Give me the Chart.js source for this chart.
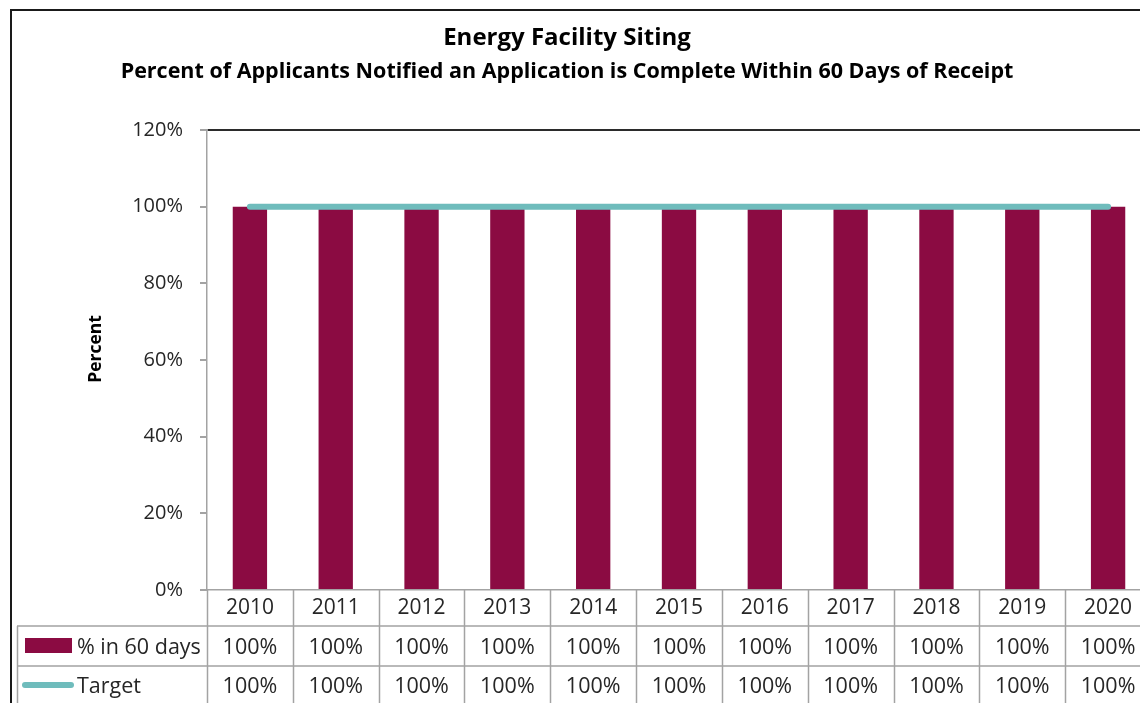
<!DOCTYPE html>
<html>
<head>
<meta charset="utf-8">
<title>Energy Facility Siting</title>
<script src="https://cdn.jsdelivr.net/npm/chart.js@4/dist/chart.umd.min.js"></script>
<style>
  html, body { margin: 0; padding: 0; background: #fff; overflow: hidden; }
  #wrap { width: 1160px; height: 703px; }
</style>
</head>
<body>
<div id="wrap"><canvas id="chart" width="1160" height="703"></canvas></div>
<script>
// Chart data
const years = ['2010', '2011', '2012', '2013', '2014', '2015', '2016', '2017', '2018', '2019', '2020'];
const pctIn60Days = [100, 100, 100, 100, 100, 100, 100, 100, 100, 100, 100];
const target = [100, 100, 100, 100, 100, 100, 100, 100, 100, 100, 100];
const yTickMax = 120;
const yTickStep = 20;

const FONT = "'Open Sans', sans-serif";
const BAR_COLOR = '#8b0b42';
const LINE_COLOR = '#6fbcbc';
const TABLE_LINE = '#a3a3a3';
const TEXT = '#262626';

// Draws the titles, the outer frame and the Excel style data table
const tablePlugin = {
    id: 'dataTable',
    beforeDraw(chart) {
        const ctx = chart.ctx;
        ctx.save();
        ctx.fillStyle = '#fff';
        ctx.fillRect(0, 0, chart.width, chart.height);
        ctx.restore();
    },
    afterDraw(chart) {
        const ctx = chart.ctx;
        const area = chart.chartArea;
        const x = chart.scales.x;
        const step = (area.right - area.left) / years.length;
        const row1 = 626, row2 = 666, bottom = chart.height;

        ctx.save();

        // outer frame of the chart object
        ctx.strokeStyle = '#1a1a1a';
        ctx.lineWidth = 2;
        ctx.beginPath();
        ctx.moveTo(11, bottom);
        ctx.lineTo(11, 10);
        ctx.lineTo(chart.width, 10);
        ctx.stroke();

        // titles
        ctx.fillStyle = '#000';
        ctx.textAlign = 'center';
        ctx.textBaseline = 'middle';
        ctx.font = 'bold 24px ' + FONT;
        ctx.fillText('Energy Facility Siting', 567, 38);
        ctx.font = 'bold 21.5px ' + FONT;
        ctx.fillText('Percent of Applicants Notified an Application is Complete Within 60 Days of Receipt', 567, 72);

        // y axis title
        ctx.save();
        ctx.translate(96, 349);
        ctx.rotate(-Math.PI / 2);
        ctx.font = 'bold 17.5px ' + FONT;
        ctx.fillText('Percent', 0, 0);
        ctx.restore();

        // table grid
        ctx.strokeStyle = TABLE_LINE;
        ctx.lineWidth = 1.5;
        ctx.beginPath();
        for (let i = 0; i <= years.length; i++) {
            const gx = Math.round(area.left + i * step) + 0.5;
            ctx.moveTo(gx, area.bottom);
            ctx.lineTo(gx, bottom);
        }
        ctx.moveTo(17, row1);
        ctx.lineTo(chart.width, row1);
        ctx.moveTo(17, row2);
        ctx.lineTo(chart.width, row2);
        ctx.moveTo(17.5, row1);
        ctx.lineTo(17.5, bottom);
        ctx.stroke();

        // legend keys
        ctx.fillStyle = BAR_COLOR;
        ctx.fillRect(25, 638, 47, 15);
        ctx.strokeStyle = LINE_COLOR;
        ctx.lineWidth = 6;
        ctx.lineCap = 'round';
        ctx.beginPath();
        ctx.moveTo(25, 685);
        ctx.lineTo(71, 685);
        ctx.stroke();

        // row labels and values
        ctx.fillStyle = TEXT;
        ctx.font = '21.5px ' + FONT;
        ctx.textAlign = 'left';
        const yRow1 = (row1 + row2) / 2 + 1.5;
        const yRow2 = (row2 + 704) / 2 + 1.5;
        ctx.fillText('% in 60 days', 77, yRow1);
        ctx.fillText('Target', 77, yRow2);
        ctx.textAlign = 'center';
        years.forEach((y, i) => {
            const cx = x.getPixelForValue(i);
            ctx.fillText(pctIn60Days[i] + '%', cx, yRow1);
            ctx.fillText(target[i] + '%', cx, yRow2);
        });

        ctx.restore();
    }
};

new Chart(document.getElementById('chart'), {
    data: {
        labels: years,
        datasets: [
            {
                type: 'line',
                label: 'Target',
                data: target,
                borderColor: LINE_COLOR,
                borderWidth: 6,
                borderCapStyle: 'round',
                pointRadius: 0,
                fill: false,
                order: 0
            },
            {
                type: 'bar',
                label: '% in 60 days',
                data: pctIn60Days,
                backgroundColor: BAR_COLOR,
                categoryPercentage: 1,
                barPercentage: 0.4,
                order: 1
            }
        ]
    },
    options: {
        responsive: false,
        animation: false,
        layout: { padding: { left: 0, right: 9, top: 130, bottom: 77 } },
        plugins: {
            legend: { display: false },
            title: { display: false },
            tooltip: { enabled: false }
        },
        scales: {
            x: {
                grid: { display: false, drawTicks: false },
                border: { display: true, color: TABLE_LINE, width: 1.5 },
                ticks: {
                    color: TEXT,
                    font: { family: FONT, size: 21 },
                    padding: 5,
                    maxRotation: 0
                },
                afterFit(scale) { scale.height = 36; }
            },
            y: {
                min: 0,
                max: yTickMax,
                ticks: {
                    stepSize: yTickStep,
                    color: TEXT,
                    padding: 17,
                    font: { family: FONT, size: 20 },
                    callback: v => v + '%'
                },
                grid: {
                    drawTicks: true,
                    tickLength: 7,
                    tickColor: TABLE_LINE,
                    lineWidth: 2,
                    color: c => (c.tick && c.tick.value === yTickMax) ? '#2b2b2b' : 'rgba(0,0,0,0)'
                },
                border: { display: true, color: TABLE_LINE, width: 1.5 },
                afterFit(scale) { scale.width = 207; }
            }
        }
    },
    plugins: [tablePlugin]
});
</script>
</body>
</html>
